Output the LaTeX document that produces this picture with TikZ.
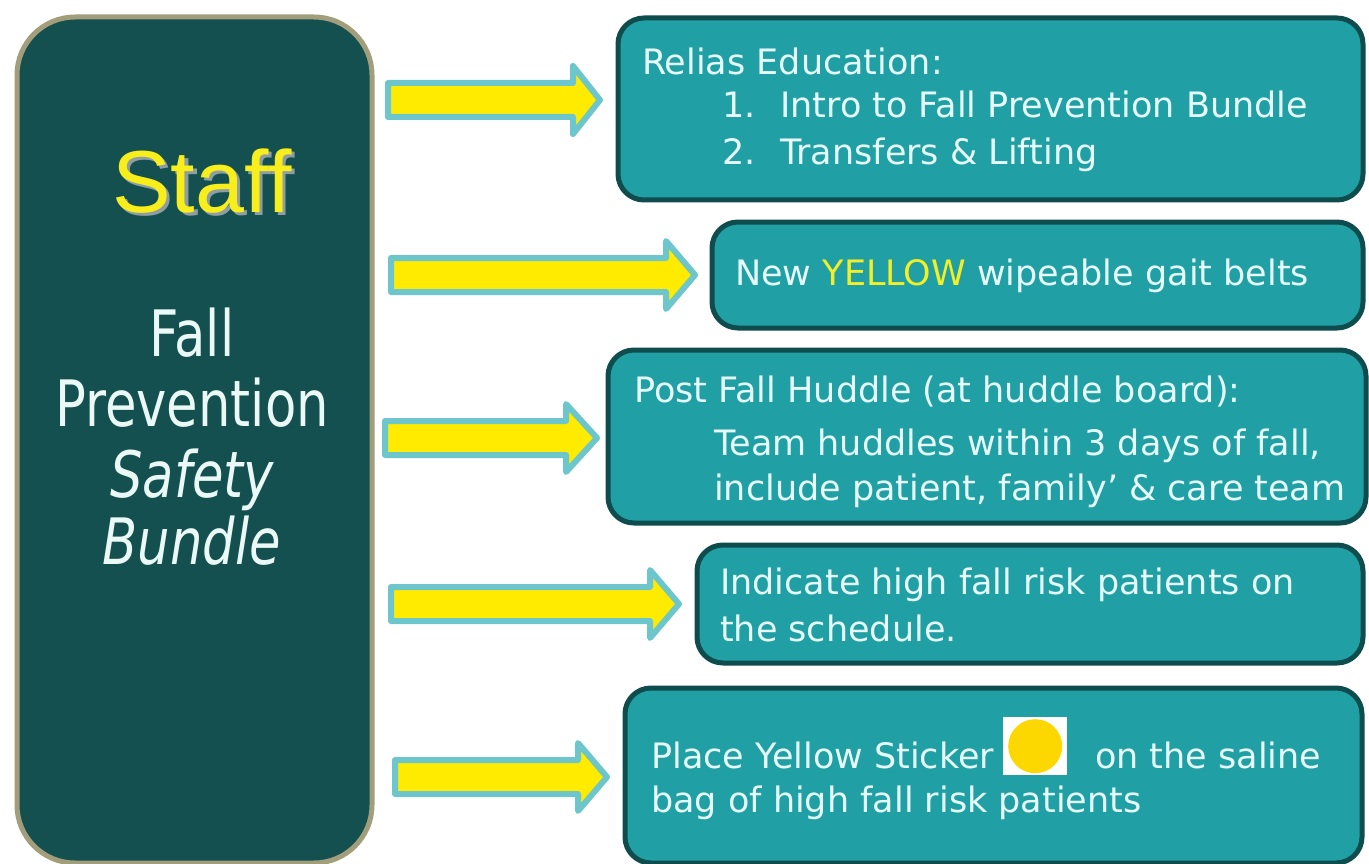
\documentclass[tikz,border=0pt]{standalone}
\usepackage{fontspec}
\usetikzlibrary{calc}
\setmainfont{DejaVu Sans}
\newfontfamily\panelfont{DejaVu Sans}[FakeStretch=0.8]
\newfontfamily\titlefont{Liberation Sans}

\definecolor{panelfill}{HTML}{13504F}
\definecolor{paneledge}{HTML}{A29D7A}
\definecolor{panelink}{HTML}{EAF8F6}
\definecolor{boxfill}{HTML}{20A0A4}
\definecolor{boxedge}{HTML}{0F4C4D}
\definecolor{boxink}{HTML}{E6FBFB}
\definecolor{arrowfill}{HTML}{FFEB00}
\definecolor{arrowedge}{HTML}{6CC6CC}
\definecolor{hiyellow}{HTML}{F2EE28}
\definecolor{titleyellow}{HTML}{F8EE1C}
\definecolor{titleshadow}{HTML}{8E9EA2}
\definecolor{stickeryellow}{HTML}{FCD800}

\tikzset{
  panel/.style={draw=paneledge, line width=5pt, fill=panelfill,
    rounded corners=58pt, anchor=north west, inner sep=0pt},
  infobox/.style={draw=boxedge, line width=5pt, fill=boxfill,
    rounded corners=26pt, anchor=north west, inner sep=0pt},
  blockarrow/.style={draw=arrowedge, fill=arrowfill, line width=6pt,
    line join=round},
  boxtext/.style={anchor=base west, inner sep=0pt, text=boxink,
    font=\fontsize{35}{41}\selectfont},
  paneltext/.style={anchor=base, inner sep=0pt, text=panelink,
    font=\panelfont\fontsize{64}{70}\selectfont},
  titletext/.style={anchor=base, inner sep=0pt,
    font=\titlefont\fontsize{88}{96}\selectfont},
}

% yellow title word with a grey drop shadow behind it
\newcommand{\shadowed}[1]{%
  \rlap{\hspace{3pt}\raisebox{-3pt}{\textcolor{titleshadow}{#1}}}%
  \textcolor{titleyellow}{#1}}

% block arrow: name, tail x, head-base x, tip x, centre y
\newcommand{\fatarrow}[5]{%
  \coordinate (#1-tail) at (#2,#5);
  \coordinate (#1-base) at (#3,#5);
  \coordinate (#1-tip)  at (#4,#5);
  \draw[blockarrow]
    ($(#1-tail)+(3,-17)$) -- ($(#1-base)+(3,-17)$) -- ($(#1-base)+(3,-34)$)
    -- ($(#1-tip)+(-3,0)$)
    -- ($(#1-base)+(3,34)$) -- ($(#1-base)+(3,17)$) -- ($(#1-tail)+(3,17)$)
    -- cycle;
}

\begin{document}
\begin{tikzpicture}[x=1pt,y=-1pt]
  \useasboundingbox (0,0) rectangle (1369,864);
  \fill[white] (0,0) rectangle (1369,864);

  % left panel
  \node[panel, minimum width=355pt, minimum height=846pt] (panel) at (14.5,14.5) {};
  \node[titletext] (staff) at (202,212) {\shadowed{Staff}};
  \node[paneltext] (fall) at (192,356) {Fall};
  \node[paneltext] (prevention) at (192,426) {Prevention};
  \node[paneltext, font=\panelfont\itshape\fontsize{64}{70}\selectfont] (safety) at (192,497) {Safety};
  \node[paneltext, font=\panelfont\itshape\fontsize{64}{70}\selectfont] (bundle) at (192,564) {Bundle};

  % right-hand boxes
  \node[infobox, minimum width=745pt, minimum height=182pt] (b1) at (615.5,15.5) {};
  \node[infobox, minimum width=651pt, minimum height=106pt] (b2) at (709.5,219.5) {};
  \node[infobox, minimum width=758pt, minimum height=173pt] (b3) at (605.5,347.5) {};
  \node[infobox, minimum width=666pt, minimum height=118pt] (b4) at (694.5,542.5) {};
  \node[infobox, minimum width=737pt, minimum height=175pt] (b5) at (622.5,685.5) {};

  % arrows
  \fatarrow{a1}{385}{570}{603}{100}
  \fatarrow{a2}{388}{663}{698}{275}
  \fatarrow{a3}{382}{563}{600}{438}
  \fatarrow{a4}{388}{647}{682}{604}
  \fatarrow{a5}{392}{575}{610}{777}

  % box 1
  \node[boxtext] (r0) at (642,75) {Relias Education:};
  \node[boxtext] (r1n) at (722,118) {1.};
  \node[boxtext] (r1t) at (780,118) {Intro to Fall Prevention Bundle};
  \node[boxtext] (r2n) at (722,165) {2.};
  \node[boxtext] (r2t) at (780,165) {Transfers \& Lifting};

  % box 2
  \node[boxtext] (g1) at (735,285) {New \textcolor{hiyellow}{YELLOW} wipeable gait belts};

  % box 3
  \node[boxtext] (h1) at (634,402) {Post Fall Huddle (at huddle board):};
  \node[boxtext] (h2) at (714,455) {Team huddles within 3 days of fall,};
  \node[boxtext] (h3) at (714,500) {include patient, family’ \& care team};

  % box 4
  \node[boxtext] (s1) at (720,594) {Indicate high fall risk patients on};
  \node[boxtext] (s2) at (720,641) {the schedule.};

  % box 5
  \node[boxtext] (y1) at (651,768) {Place Yellow Sticker};
  \node[fill=white, inner sep=0pt, minimum width=64pt, minimum height=58pt, anchor=north west] (sticker) at (1003,717) {};
  \fill[stickeryellow] (sticker.center) circle (27);
  \node[boxtext] (y2) at (1095,768) {on the saline};
  \node[boxtext] (y3) at (651,812) {bag of high fall risk patients};
\end{tikzpicture}
\end{document}
